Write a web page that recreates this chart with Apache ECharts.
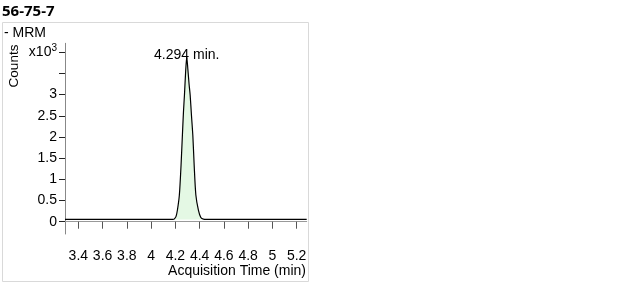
<!DOCTYPE html>
<html>
<head>
<meta charset="utf-8">
<script src="https://cdn.jsdelivr.net/npm/echarts@6/dist/echarts.min.js"></script>
<style>html,body{margin:0;padding:0;background:#fff}#c{width:628px;height:285px}</style>
</head>
<body>
<div id="c"></div>
<script>
// Data (counts in units of x10^3)
const times = [3.29, 3.5, 3.8, 4.0, 4.1, 4.18, 4.19, 4.205, 4.217, 4.233, 4.247, 4.258, 4.267, 4.275, 4.285, 4.294, 4.303, 4.313, 4.322, 4.333, 4.344, 4.355, 4.369, 4.39, 4.41, 4.431, 4.5, 4.8, 5.0, 5.283];
const counts = [0.055, 0.055, 0.055, 0.055, 0.055, 0.055, 0.062, 0.12, 0.276, 0.63, 1.34, 2.04, 2.6, 2.99, 3.55, 3.89, 3.6, 3.25, 2.99, 2.5, 2.04, 1.34, 0.63, 0.276, 0.1, 0.062, 0.055, 0.055, 0.055, 0.055];
const peakTime = 4.294;
const peakValue = 3.89;
const peakLabel = '4.294 min.';
const xTicks = [3.4, 3.6, 3.8, 4.0, 4.2, 4.4, 4.6, 4.8, 5.0, 5.2];
const xTickLabels = ['3.4', '3.6', '3.8', '4', '4.2', '4.4', '4.6', '4.8', '5', '5.2'];
const yLabelValues = [0, 0.5, 1, 1.5, 2, 2.5, 3, 4];
const yLabelTexts = ['0', '0.5', '1', '1.5', '2', '2.5', '3', 'x10{sup|3}'];
const yTickValues = [0, 0.5, 1, 1.5, 2, 2.5, 3, 3.5, 4];
const baselineLevel = 0.055;
const peakStart = 4.18, peakEnd = 4.45;

const lineData = times.map((t, i) => [t, counts[i]]);
const fillData = lineData.filter(p => p[0] >= peakStart && p[0] <= peakEnd);

const chart = echarts.init(document.getElementById('c'), null, {renderer: 'canvas'});
const font = 'Liberation Sans';
chart.setOption({
  animation: false,
  backgroundColor: '#fff',
  textStyle: {fontFamily: font},
  grid: {left: 65, right: 321.3, top: 43.3, bottom: 51},
  xAxis: {
    type: 'value', min: 3.29, max: 5.283, offset: 3,
    splitLine: {show: false},
    axisLine: {show: true, lineStyle: {color: '#999', width: 1}},
    axisTick: {show: true, length: 7, customValues: xTicks, lineStyle: {color: '#555'}},
    axisLabel: {customValues: xTicks, margin: 12, color: '#000', fontSize: 14, fontFamily: font,
      formatter: v => { const i = xTicks.findIndex(x => Math.abs(x - v) < 1e-6); return i >= 0 ? xTickLabels[i] : ''; }}
  },
  yAxis: {
    type: 'value', min: -0.29, max: 4.21,
    splitLine: {show: false},
    axisLine: {show: true, lineStyle: {color: '#888', width: 1}},
    axisTick: {show: true, length: 6, customValues: yTickValues, lineStyle: {color: '#222'}},
    axisLabel: {customValues: yLabelValues, margin: 8, color: '#000', fontSize: 14, fontFamily: font,
      formatter: v => { const i = yLabelValues.findIndex(x => Math.abs(x - v) < 1e-6); return i >= 0 ? yLabelTexts[i] : ''; },
      rich: {sup: {fontSize: 10, verticalAlign: 'top', padding: [0, 0, 8, 0], color: '#000', fontFamily: font}}}
  },
  series: [
    {type: 'line', data: fillData, showSymbol: false, symbol: 'none', smooth: 0.25,
      lineStyle: {width: 0}, areaStyle: {color: '#e4f8e4', opacity: 1, origin: baselineLevel}, z: 1, silent: true},
    {type: 'line', data: lineData, showSymbol: false, symbol: 'none', smooth: 0.25,
      lineStyle: {color: '#000', width: 1.2}, z: 2, silent: true,
      markPoint: {symbol: 'circle', symbolSize: 1, itemStyle: {color: 'rgba(0,0,0,0)'}, silent: true,
        data: [{coord: [peakTime, peakValue], label: {show: true, formatter: peakLabel, position: 'top', distance: -6, color: '#000', fontSize: 14, fontFamily: font}}]}}
  ],
  graphic: [
    {type: 'text', left: 2, top: 4, style: {text: '56-75-7', font: 'bold 15px "Open Sans"', fill: '#000'}},
    {type: 'rect', shape: {x: 2.5, y: 22.5, width: 306, height: 259}, style: {fill: 'none', stroke: '#d9d9d9', lineWidth: 1}, z: -1},
    {type: 'text', x: 4, y: 33.5, style: {text: '- MRM', font: '14px "Liberation Sans"', fill: '#000', textVerticalAlign: 'middle'}},
    {type: 'text', x: 14, y: 66, rotation: Math.PI / 2, style: {text: 'Counts', font: '13.5px "Liberation Sans"', fill: '#000', textAlign: 'center', textVerticalAlign: 'middle'}},
    {type: 'text', x: 306, y: 271, style: {text: 'Acquisition Time (min)', font: '14px "Liberation Sans"', fill: '#000', textAlign: 'right', textVerticalAlign: 'middle'}}
  ]
});
</script>
</body>
</html>
